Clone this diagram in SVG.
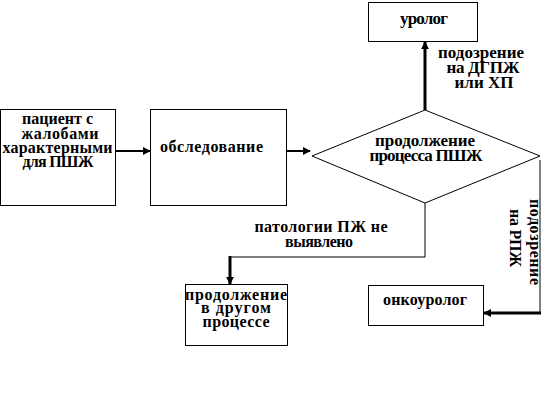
<svg xmlns="http://www.w3.org/2000/svg" width="553" height="403" viewBox="0 0 553 403">
<defs>
<style>
.b{fill:#fff;stroke:#000;stroke-width:1}
text{font-family:'Liberation Serif','Times New Roman',serif;font-size:16px;font-weight:bold;fill:#000}
.L{font-size:17px}
.c{text-anchor:middle}
.thin{fill:none;stroke:#000;stroke-width:1}
.thick{fill:none;stroke:#000;stroke-width:3}
.med{fill:none;stroke:#000;stroke-width:2}
</style>
<marker id="ah" viewBox="0 0 10 10" refX="9" refY="5" markerWidth="8" markerHeight="8" markerUnits="userSpaceOnUse" orient="auto">
<path d="M0,0 L10,5 L0,10 z" fill="#000"/>
</marker>
</defs>
<rect width="553" height="403" fill="#fff"/>
<g id="patient">
<rect class="b" x="0.5" y="109.5" width="115" height="96"/>
<text class="c" x="57.5" y="124" textLength="71">пациент с</text>
<text class="c" x="60" y="138.5" textLength="77">жалобами</text>
<text class="c" x="57.5" y="153" textLength="110">характерными</text>
<text class="c" x="58" y="167" textLength="71">для ПШЖ</text>
</g>
<g id="exam">
<rect class="b" x="150.5" y="109.5" width="136" height="96"/>
<text x="160" y="152" textLength="103">обследование</text>
</g>
<g id="decision">
<polygon class="b" points="312,156 425,110 540,156 425,203"/>
<text class="c L" x="425" y="146" textLength="100">продолжение</text>
<text class="c L" x="426" y="161" textLength="113">процесса ПШЖ</text>
</g>
<g id="urolog">
<rect class="b" x="368.5" y="2.5" width="109" height="39"/>
<text class="c L" x="424" y="24" textLength="48">уролог</text>
</g>
<g id="oncourolog">
<rect class="b" x="368.5" y="285.5" width="115" height="40"/>
<text class="c" x="425" y="305" textLength="84">онкоуролог</text>
</g>
<g id="other">
<rect class="b" x="185.5" y="284.5" width="102" height="61"/>
<text class="c" x="236" y="300" textLength="102">продолжение</text>
<text class="c" x="236" y="313" textLength="70">в другом</text>
<text class="c" x="236" y="326.5" textLength="67">процессе</text>
</g>
<g id="connectors">
<line class="med" x1="116" y1="151" x2="150" y2="151" marker-end="url(#ah)"/>
<line class="med" x1="287" y1="151" x2="310" y2="151" marker-end="url(#ah)"/>
<line class="thick" x1="425" y1="110" x2="425" y2="42" marker-end="url(#ah)"/>
<polyline class="thin" points="540,160 540,313"/>
<line class="thick" x1="541" y1="313" x2="484" y2="313" marker-end="url(#ah)"/>
<polyline class="thin" points="425,203 425,257 230,257"/>
<line class="thick" x1="230" y1="256" x2="230" y2="284" marker-end="url(#ah)"/>
<text class="c L" x="481" y="58" textLength="86">подозрение</text>
<text class="c L" x="483" y="73" textLength="73">на ДГПЖ</text>
<text class="c L" x="484" y="88" textLength="59">или ХП</text>
<text class="c" x="321" y="232" textLength="133">патологии ПЖ не</text>
<text class="c" x="319" y="247" textLength="68">выявлено</text>
<text class="c" transform="translate(530,242) rotate(90)" textLength="86">подозрение</text>
<text class="c" transform="translate(510,238) rotate(90)" textLength="58">на РПЖ</text>
</g>
</svg>
